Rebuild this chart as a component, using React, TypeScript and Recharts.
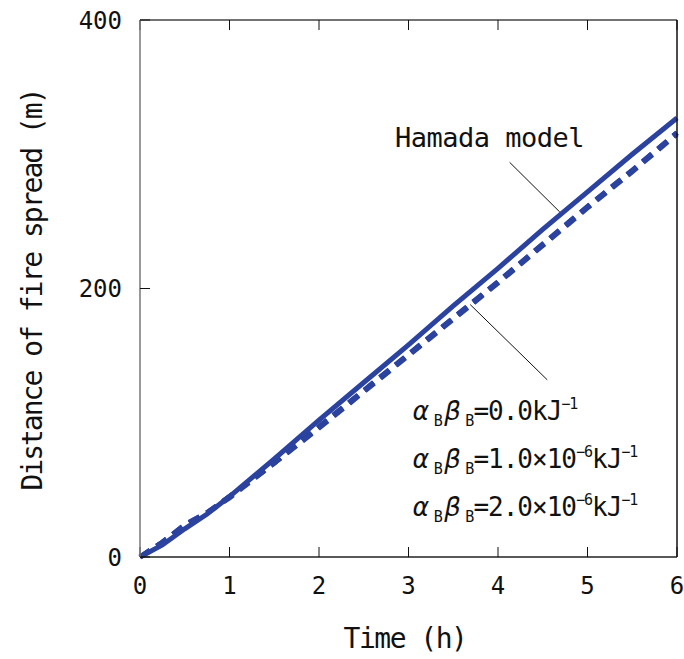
import {CartesianGrid, Customized, Line, LineChart, ReferenceLine, XAxis, YAxis} from "recharts";

// time (h)
const hours = [0, 0.25, 0.5, 0.75, 1, 1.5, 2, 2.5, 3, 3.5, 4, 4.5, 5, 5.5, 6];
// distance of fire spread (m)
const hamada = [0, 9, 21, 32, 45, 73, 102, 130, 158, 187, 215, 244, 272, 300, 327];
const alphaBeta0 = [0, 11, 24, 33, 45, 70, 97, 124, 151, 178, 205, 233, 261, 288, 316];
const alphaBeta1 = [0, 11, 24, 33, 45, 70, 97, 124, 151, 178, 205, 233, 261, 288, 316];
const alphaBeta2 = [0, 11, 23, 33, 44, 70, 96, 123, 150, 177, 204, 232, 260, 287, 315];

const xTicks = [0, 1, 2, 3, 4, 5, 6];
const yTicks = [0, 200, 400];

const data = hours.map((h, i) => ({
    h,
    hamada: hamada[i],
    ab0: alphaBeta0[i],
    ab1: alphaBeta1[i],
    ab2: alphaBeta2[i],
}));

const FONT = "'DejaVu Sans Mono', 'Liberation Mono', monospace";
const BLUE = "#2b439e";
const AXIS = "#444";

const legendRows = ["0.0", "1.0×10", "2.0×10"];
const legendExp = ["", "−6", "−6"];

function Annotations() {
    return (
        <g fontFamily={FONT} fill="#111">
            <text x={395} y={147} fontSize={27} letterSpacing={-0.5}>Hamada model</text>
            {legendRows.map((v, i) => (
                <text key={v} x={413} y={420 + i * 48} fontSize={26} letterSpacing={-1}>
                    <tspan fontStyle="italic">α</tspan>
                    <tspan fontSize={15} dx={6} dy={6}>B</tspan>
                    <tspan fontStyle="italic" dx={3} dy={-6}>β</tspan>
                    <tspan fontSize={15} dx={6} dy={6}>B</tspan>
                    <tspan dy={-6}>={v}</tspan>
                    {legendExp[i] && <tspan fontSize={15} dy={-11}>{legendExp[i]}</tspan>}
                    <tspan dy={legendExp[i] ? 11 : 0}>kJ</tspan>
                    <tspan fontSize={15} dy={-11}>−1</tspan>
                </text>
            ))}
            <text x={405} y={648} fontSize={28} letterSpacing={-1.5} textAnchor="middle">Time (h)</text>
            <text
                x={32}
                y={290}
                fontSize={28}
                letterSpacing={-2}
                textAnchor="middle"
                dominantBaseline="central"
                transform="rotate(-90 32 290)"
            >
                Distance of fire spread (m)
            </text>
        </g>
    );
}

export default function App() {
    return (
        <div style={{position: "absolute", left: 0, top: 0, background: "#fff"}}>
            <LineChart width={684} height={659} data={data} margin={{top: 19, right: 6, bottom: 0, left: 0}}>
                <CartesianGrid stroke="none" />
                <XAxis
                    xAxisId="b"
                    dataKey="h"
                    type="number"
                    domain={[0, 6]}
                    ticks={xTicks}
                    height={102}
                    tickSize={-10}
                    tickMargin={30}
                    axisLine={{stroke: "#222", strokeWidth: 1.5}}
                    tickLine={{stroke: "#111"}}
                    tick={{fill: "#111", fontSize: 24, fontFamily: FONT}}
                />
                <XAxis
                    xAxisId="t"
                    orientation="top"
                    dataKey="h"
                    type="number"
                    domain={[0, 6]}
                    ticks={xTicks}
                    height={1}
                    tickSize={-10}
                    tickFormatter={() => ""}
                    axisLine={{stroke: AXIS, strokeWidth: 1.5}}
                    tickLine={{stroke: "#111"}}
                />
                <YAxis
                    yAxisId="l"
                    type="number"
                    domain={[0, 400]}
                    ticks={yTicks}
                    width={140}
                    tickSize={-10}
                    tickMargin={28}
                    axisLine={{stroke: "#777", strokeWidth: 1.5}}
                    tickLine={{stroke: "#111"}}
                    tick={{fill: "#111", fontSize: 24, fontFamily: FONT}}
                />
                <YAxis
                    yAxisId="r"
                    orientation="right"
                    type="number"
                    domain={[0, 400]}
                    ticks={yTicks}
                    width={1}
                    tickSize={-10}
                    tickFormatter={() => ""}
                    axisLine={{stroke: "#111", strokeWidth: 1.5}}
                    tickLine={{stroke: "#111"}}
                />
                <Line xAxisId="b" yAxisId="l" dataKey="ab2" stroke={BLUE} strokeWidth={5} strokeDasharray="12 8" dot={false} isAnimationActive={false} />
                <Line xAxisId="b" yAxisId="l" dataKey="ab1" stroke={BLUE} strokeWidth={5} strokeDasharray="12 8" dot={false} isAnimationActive={false} />
                <Line xAxisId="b" yAxisId="l" dataKey="ab0" stroke={BLUE} strokeWidth={5} strokeDasharray="12 8" dot={false} isAnimationActive={false} />
                <Line xAxisId="b" yAxisId="l" dataKey="hamada" stroke={BLUE} strokeWidth={5} dot={false} isAnimationActive={false} />
                <ReferenceLine
                    xAxisId="b"
                    yAxisId="l"
                    segment={[{x: 4.13, y: 294}, {x: 4.69, y: 257}]}
                    stroke="#111"
                    strokeWidth={1}
                />
                <ReferenceLine
                    xAxisId="b"
                    yAxisId="l"
                    segment={[{x: 3.69, y: 188}, {x: 4.55, y: 132}]}
                    stroke="#111"
                    strokeWidth={1}
                />
                <Customized component={Annotations} />
            </LineChart>
        </div>
    );
}
